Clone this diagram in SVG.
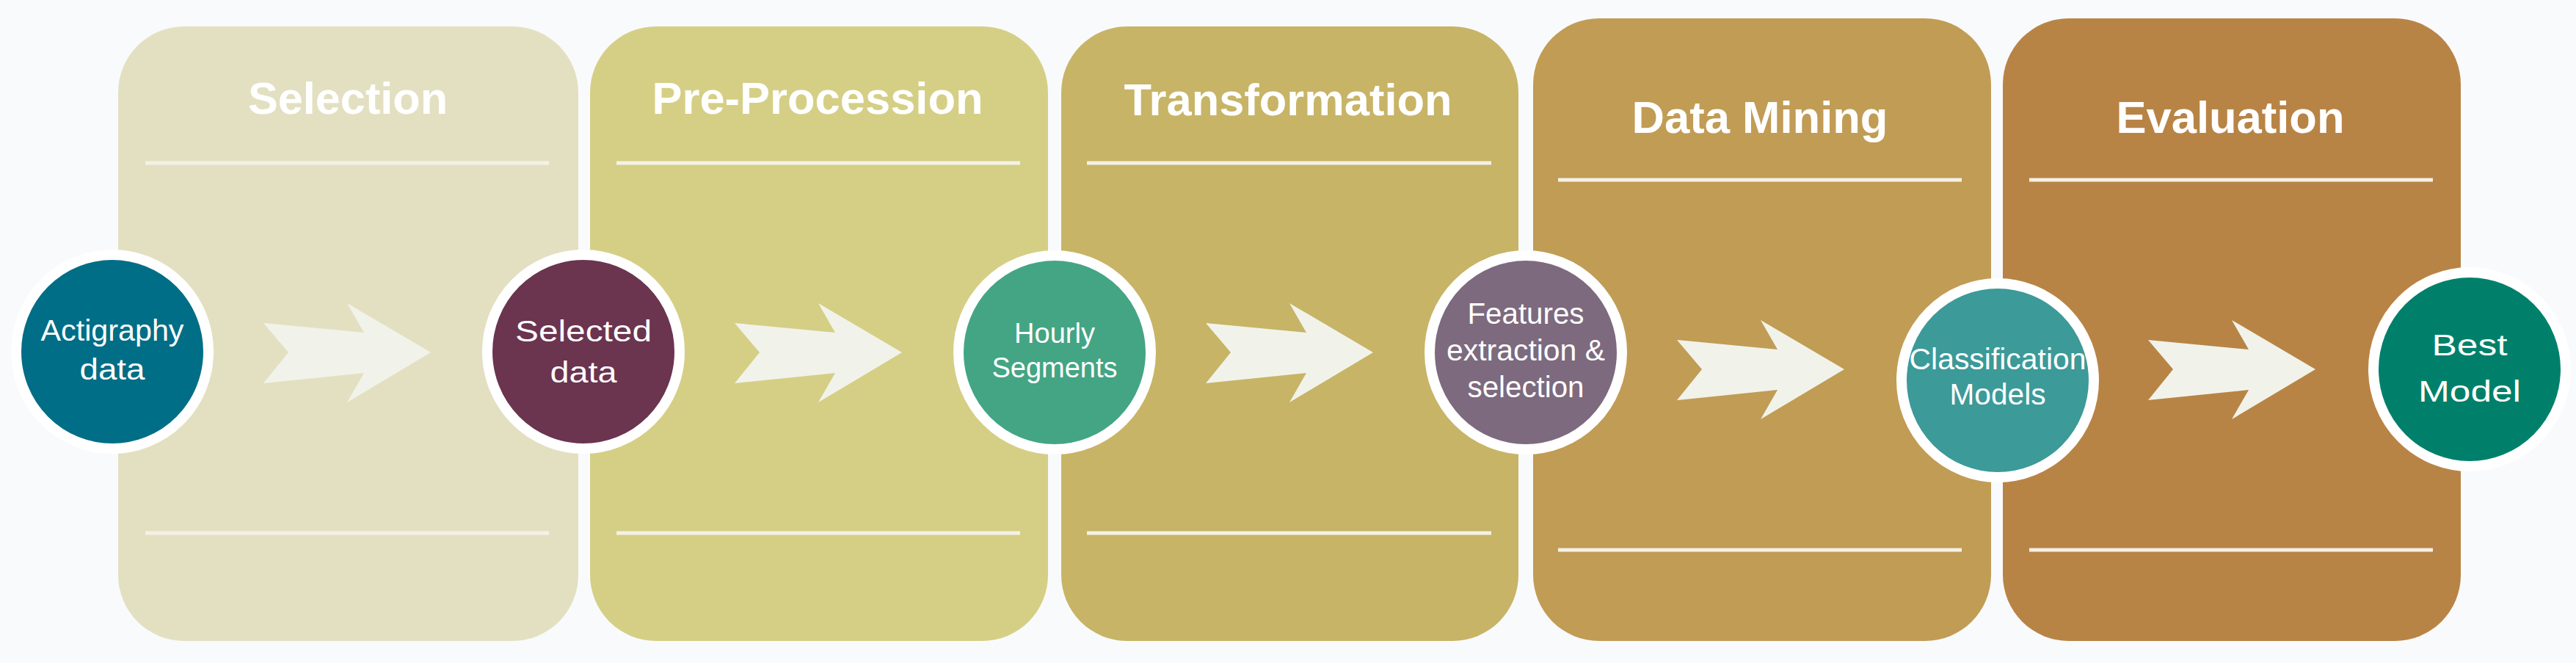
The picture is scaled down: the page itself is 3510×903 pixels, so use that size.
<svg xmlns="http://www.w3.org/2000/svg" width="3510" height="903" viewBox="0 0 3510 903">
<style>
.t{font-family:"Liberation Sans Narrow","Liberation Sans",Arial,sans-serif;font-weight:bold;font-size:62px;fill:#fff;text-anchor:middle}
.w{font-family:"Liberation Sans",Arial,sans-serif;font-weight:bold;font-size:62px;fill:#fff;text-anchor:middle}
.ln{stroke:#f4f1e6;stroke-width:5}
.c{stroke:#fff;stroke-width:14}
.n{font-family:"Liberation Sans Narrow","Liberation Sans",Arial,sans-serif;font-size:40px;fill:#fff;text-anchor:middle}
.h{font-family:"Liberation Sans",Arial,sans-serif;font-size:38px;fill:#fff;text-anchor:middle}
.ar{fill:#f1f3ea}
</style>
<defs>
<path id="arr" d="M0,-40 L34,0 L0,42 L137,28 L114,68 L228,0 L114,-67 L137,-27 Z"/>
</defs>
<rect width="3510" height="903" fill="#f9fafb"/>
<g id="stage-selection">
<rect x="161" y="36" width="627" height="837" rx="90" fill="#e3e0c2"/>
<text class="t" x="474" y="155" textLength="272" lengthAdjust="spacingAndGlyphs">Selection</text>
<line class="ln" x1="198" y1="222" x2="748" y2="222"/><line class="ln" x1="198" y1="726" x2="748" y2="726"/>
</g>
<g id="stage-preprocession">
<rect x="804" y="36" width="624" height="837" rx="90" fill="#d5cf86"/>
<text class="t" x="1114" y="155" textLength="451" lengthAdjust="spacingAndGlyphs">Pre-Procession</text>
<line class="ln" x1="840" y1="222" x2="1390" y2="222"/><line class="ln" x1="840" y1="726" x2="1390" y2="726"/>
</g>
<g id="stage-transformation">
<rect x="1446" y="36" width="623" height="837" rx="90" fill="#c7b466"/>
<text class="w" x="1755" y="157" textLength="447" lengthAdjust="spacingAndGlyphs">Transformation</text>
<line class="ln" x1="1481" y1="222" x2="2032" y2="222"/><line class="ln" x1="1481" y1="726" x2="2032" y2="726"/>
</g>
<g id="stage-datamining">
<rect x="2089" y="25" width="624" height="848" rx="90" fill="#c19c55"/>
<text class="t" x="2398" y="181" textLength="349" lengthAdjust="spacingAndGlyphs">Data Mining</text>
<line class="ln" x1="2123" y1="245" x2="2673" y2="245"/><line class="ln" x1="2123" y1="749" x2="2673" y2="749"/>
</g>
<g id="stage-evaluation">
<rect x="2729" y="25" width="624" height="848" rx="90" fill="#b88445"/>
<text class="t" x="3039" y="181" textLength="311" lengthAdjust="spacingAndGlyphs">Evaluation</text>
<line class="ln" x1="2765" y1="245" x2="3315" y2="245"/><line class="ln" x1="2765" y1="749" x2="3315" y2="749"/>
</g>
<g id="connectors">
<use href="#arr" class="ar" x="359" y="480"/>
<use href="#arr" class="ar" x="1001" y="480"/>
<use href="#arr" class="ar" x="1643" y="480"/>
<use href="#arr" class="ar" x="2285" y="503"/>
<use href="#arr" class="ar" x="2927" y="503"/>
</g>
<g id="node-actigraphy">
<ellipse class="c" cx="153" cy="479" rx="131" ry="132" fill="#006e86"/>
<text class="n" x="153" y="464" textLength="195" lengthAdjust="spacingAndGlyphs">Actigraphy</text>
<text class="n" x="153" y="517" textLength="89" lengthAdjust="spacingAndGlyphs">data</text>
</g>
<g id="node-selected">
<ellipse class="c" cx="795" cy="479" rx="131" ry="132" fill="#6b344f"/>
<text class="n" x="795" y="465" font-size="42" textLength="186" lengthAdjust="spacingAndGlyphs">Selected</text>
<text class="n" x="795" y="521" font-size="42" textLength="91" lengthAdjust="spacingAndGlyphs">data</text>
</g>
<g id="node-hourly">
<ellipse class="c" cx="1437" cy="480" rx="131" ry="132" fill="#43a584"/>
<text class="h" x="1437" y="467">Hourly</text>
<text class="h" x="1437" y="514">Segments</text>
</g>
<g id="node-features">
<ellipse class="c" cx="2079" cy="480" rx="131" ry="132" fill="#7d6a7e"/>
<text class="n" x="2079" y="441" textLength="159" lengthAdjust="spacingAndGlyphs">Features</text>
<text class="n" x="2079" y="491" textLength="216" lengthAdjust="spacingAndGlyphs">extraction &amp;</text>
<text class="n" x="2079" y="541" textLength="159" lengthAdjust="spacingAndGlyphs">selection</text>
</g>
<g id="node-classification">
<ellipse class="c" cx="2722" cy="518" rx="131" ry="132" fill="#3c9a99"/>
<text class="n" x="2722" y="503" textLength="241" lengthAdjust="spacingAndGlyphs">Classification</text>
<text class="n" x="2722" y="551" textLength="131" lengthAdjust="spacingAndGlyphs">Models</text>
</g>
<g id="node-best">
<ellipse class="c" cx="3365" cy="503" rx="131" ry="132" fill="#00806a"/>
<text class="n" x="3365" y="484" font-size="48" textLength="103" lengthAdjust="spacingAndGlyphs">Best</text>
<text class="n" x="3365" y="547" font-size="48" textLength="140" lengthAdjust="spacingAndGlyphs">Model</text>
</g>
</svg>
